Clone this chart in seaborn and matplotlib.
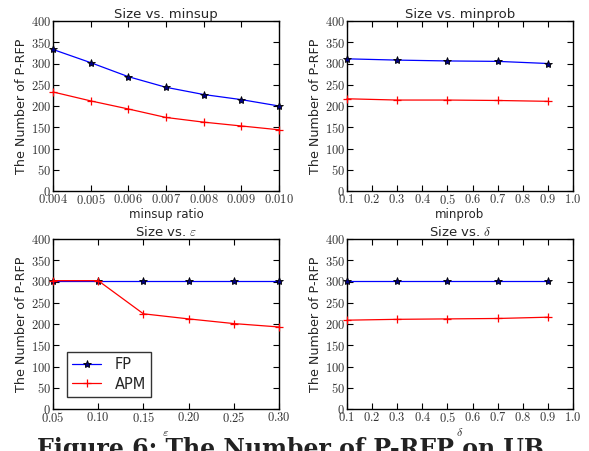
import matplotlib
matplotlib.use("Agg")
import matplotlib.pyplot as plt
import seaborn as sns
import pandas as pd
from matplotlib.ticker import FuncFormatter, MultipleLocator

# minsup sweep
minsup = [0.004, 0.005, 0.006, 0.007, 0.008, 0.009, 0.010]
minsup_fp = [333, 302, 269, 244, 227, 215, 200]
minsup_apm = [233, 212, 193, 173, 162, 153, 144]

# minprob sweep
minprob = [0.1, 0.3, 0.5, 0.7, 0.9]
minprob_fp = [311, 308, 306, 305, 300]
minprob_apm = [217, 214, 214, 213, 211]

# epsilon sweep
eps = [0.05, 0.10, 0.15, 0.20, 0.25, 0.30]
eps_fp = [302, 302, 302, 302, 302, 302]
eps_apm = [302, 302, 224, 212, 201, 193]

# delta sweep
delta = [0.1, 0.3, 0.5, 0.7, 0.9]
delta_fp = [302, 302, 302, 302, 302]
delta_apm = [209, 211, 212, 213, 216]

sns.set_theme(style="ticks")
plt.rcParams["font.family"] = ["DejaVu Sans"]
plt.rcParams["mathtext.fontset"] = "cm"

fig = plt.figure(figsize=(5.89, 4.51), dpi=100)
W, H = 589, 451


def add_ax(l, t, r, b):
    return fig.add_axes([l / W, 1 - b / H, (r - l) / W, (b - t) / H])


panels = [
    dict(box=(53, 21, 279, 191), x=minsup, fp=minsup_fp, apm=minsup_apm,
         title="Size vs. minsup", xlabel="minsup ratio",
         xlim=(0.004, 0.010), step=0.001, fmt="{:.3f}", legend=False),
    dict(box=(347, 21, 573, 191), x=minprob, fp=minprob_fp, apm=minprob_apm,
         title="Size vs. minprob", xlabel="minprob",
         xlim=(0.1, 1.0), step=0.1, fmt="{:.1f}", legend=False),
    dict(box=(53, 239, 279, 409), x=eps, fp=eps_fp, apm=eps_apm,
         title=r"Size vs. $\varepsilon$", xlabel=r"$\varepsilon$",
         xlim=(0.05, 0.30), step=0.05, fmt="{:.2f}", legend=True),
    dict(box=(347, 239, 573, 409), x=delta, fp=delta_fp, apm=delta_apm,
         title=r"Size vs. $\delta$", xlabel=r"$\delta$",
         xlim=(0.1, 1.0), step=0.1, fmt="{:.1f}", legend=False),
]

for p in panels:
    ax = add_ax(*p["box"])
    df = pd.DataFrame({"x": p["x"], "FP": p["fp"], "APM": p["apm"]})
    sns.lineplot(data=df, x="x", y="FP", ax=ax, color="#0000ff", lw=0.9,
                 marker="*", markersize=6, markerfacecolor="#000080",
                 markeredgecolor="black", markeredgewidth=0.6, label="FP",
                 clip_on=False, zorder=3)
    sns.lineplot(data=df, x="x", y="APM", ax=ax, color="#ff0000", lw=0.9,
                 marker="+", markersize=6, markeredgecolor="#ff0000",
                 markeredgewidth=0.9, label="APM", clip_on=False, zorder=3)
    ax.set_xlim(*p["xlim"])
    ax.set_ylim(0, 400)
    ax.xaxis.set_major_locator(MultipleLocator(p["step"]))
    ax.yaxis.set_major_locator(MultipleLocator(50))
    f = p["fmt"]
    ax.xaxis.set_major_formatter(FuncFormatter(lambda v, pos, f=f: "$" + f.format(v) + "$"))
    ax.yaxis.set_major_formatter(FuncFormatter(lambda v, pos: "$%d$" % round(v)))
    ax.tick_params(direction="in", top=True, right=True, length=4, width=0.8,
                   labelsize=9, pad=1.5, colors="black")
    for lbl in ax.get_xticklabels() + ax.get_yticklabels():
        lbl.set_color("#333333")
    for s in ax.spines.values():
        s.set_linewidth(1.0)
        s.set_color("black")
    ax.set_title(p["title"], fontsize=9.5, pad=2)
    ax.set_xlabel(p["xlabel"], fontsize=8.5, labelpad=1)
    ax.set_ylabel("The Number of P-RFP", fontsize=9.2, labelpad=2)
    if p["legend"]:
        leg = ax.legend(loc="lower left", fontsize=10.5, frameon=True,
                        fancybox=False, edgecolor="black", borderpad=0.35,
                        handlelength=2.0, labelspacing=0.3, handletextpad=0.9,
                        bbox_to_anchor=(0.03, 0.03))
        leg.get_frame().set_linewidth(1.0)
    else:
        lg = ax.get_legend()
        if lg is not None:
            lg.remove()

fig.text(37 / W, 1 - 437 / H, "Figure 6: The Number of P-RFP on UB",
         fontsize=17, fontweight="bold", family="DejaVu Serif",
         va="top", ha="left", color="#222222")

fig.savefig("out.png", dpi=100)
